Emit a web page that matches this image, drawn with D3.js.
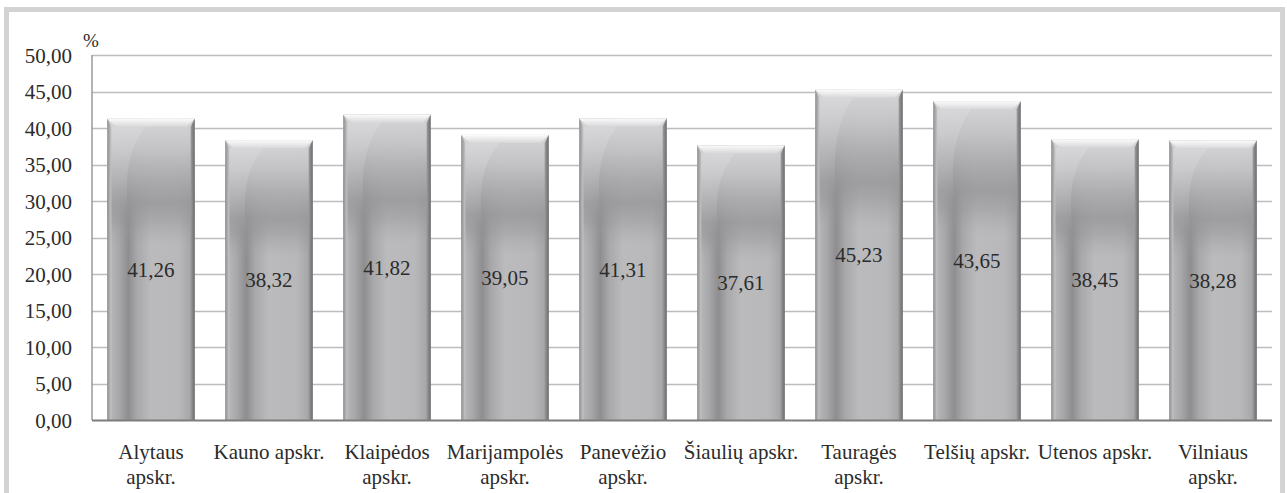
<!DOCTYPE html>
<html>
<head>
<meta charset="utf-8">
<script src="https://cdn.jsdelivr.net/npm/d3@7"></script>
</head>
<body style="margin:0">
<script>
const categories = ['Alytaus apskr.', 'Kauno apskr.', 'Klaipėdos apskr.', 'Marijampolės apskr.', 'Panevėžio apskr.',
  'Šiaulių apskr.', 'Tauragės apskr.', 'Telšių apskr.', 'Utenos apskr.', 'Vilniaus apskr.'];
const values = [41.26, 38.32, 41.82, 39.05, 41.31, 37.61, 45.23, 43.65, 38.45, 38.28];
const yTicks = [0, 5, 10, 15, 20, 25, 30, 35, 40, 45, 50];
const unitLabel = '%';

const outerWidth = 1287;
const outerHeight = 493;
const plot = { left: 92, right: 1272, top: 55, bottom: 420 };
const serif = 'Liberation Serif';
const ink = '#2b2b2b';

const fmt = v => d3.format('.2f')(v).replace('.', ',');

const svg = d3.select('body')
  .append('svg')
  .attr('width', outerWidth)
  .attr('height', outerHeight)
  .attr('font-family', serif)
  .style('display', 'block');

// outer frame (open at the bottom, cut by the picture)
svg.append('rect')
  .attr('x', 6.5).attr('y', 9.5)
  .attr('width', 1276).attr('height', 520)
  .attr('fill', '#fff')
  .attr('stroke', '#d3d3d3')
  .attr('stroke-width', 5);

// Scales
const x = d3.scaleBand()
  .domain(categories)
  .range([plot.left, plot.right])
  .paddingInner(0.26)
  .paddingOuter(0.13);

const y = d3.scaleLinear()
  .domain([0, 50])
  .range([plot.bottom, plot.top]);

// gradients
const defs = svg.append('defs');
const gradient = (id, horizontal, stops) => {
  const g = defs.append('linearGradient').attr('id', id)
    .attr('x1', 0).attr('y1', 0)
    .attr('x2', horizontal ? 1 : 0).attr('y2', horizontal ? 0 : 1);
  stops.forEach(([o, c, a]) => g.append('stop')
    .attr('offset', o).attr('stop-color', c).attr('stop-opacity', a === undefined ? 1 : a));
};

gradient('barH', true, [[0, '#a2a2a4'], [0.04, '#b6b6b8'], [0.13, '#a8a8aa'], [0.24, '#8e8e90'],
  [0.34, '#a8a8aa'], [0.5, '#bbbbbd'], [0.82, '#b8b8ba'], [0.94, '#a8a8aa'], [1, '#8a8a8c']]);
gradient('barV', false, [[0, '#d6d6d8', 1], [0.1, '#c4c4c6', 0.97], [0.2, '#aaaaac', 0.92],
  [0.28, '#979799', 0.8], [0.34, '#949496', 0.45], [0.42, '#a0a0a2', 0]]);
gradient('bevelTop', false, [[0, '#fbfbfb'], [1, '#d8d8da']]);
gradient('bevelLeft', true, [[0, '#8e8e90'], [1, '#c6c6c8']]);
gradient('bevelRight', true, [[0, '#9c9c9e'], [1, '#6c6c6e']]);
gradient('shine', false, [[0, '#e2e2e4', 0.35], [0.6, '#d8d8da', 0.18], [1, '#d8d8da', 0]]);

// gridlines
svg.append('g')
  .selectAll('line')
  .data(yTicks.filter(d => d > 0))
  .join('line')
  .attr('x1', plot.left).attr('x2', plot.right)
  .attr('y1', d => Math.round(y(d)) + 0.5).attr('y2', d => Math.round(y(d)) + 0.5)
  .attr('stroke', '#bdbdbd')
  .attr('stroke-width', 1.4);

// y axis
const yAxis = d3.axisLeft(y).tickValues(yTicks).tickFormat(fmt).tickSize(0).tickPadding(20);
const gy = svg.append('g')
  .attr('transform', `translate(${plot.left},0)`)
  .call(yAxis)
  .attr('font-family', serif)
  .attr('font-size', 21);
gy.select('.domain').remove();
gy.selectAll('text')
  .attr('font-family', serif)
  .attr('fill', ink)
  .attr('dy', '0.34em');

svg.append('text')
  .attr('x', 83).attr('y', 47)
  .attr('font-size', 19)
  .attr('font-family', serif)
  .attr('fill', ink)
  .text(unitLabel);

// bars
const bw = x.bandwidth();
const bev = 8;
const side = 4;
const barH = d => y(0) - y(d.v);
const bars = svg.append('g')
  .selectAll('g')
  .data(categories.map((c, i) => ({ c, v: values[i] })))
  .join('g')
  .attr('transform', d => `translate(${x(d.c)},${y(d.v)})`);

bars.append('rect')
  .attr('width', bw)
  .attr('height', barH)
  .attr('fill', 'url(#barH)');

bars.append('rect')
  .attr('width', bw)
  .attr('height', barH)
  .attr('fill', 'url(#barV)');

// light curve from the top-left corner
bars.append('path')
  .attr('d', d => {
    const h = barH(d);
    return `M${side},${bev} L${side + 34},${bev} Q${side + 10},${h * 0.12} ${side + 17},${h * 0.32} L${side},${h * 0.32} Z`;
  })
  .attr('fill', 'url(#shine)');

bars.append('path')
  .attr('d', `M0,0 L${bw},0 L${bw - bev},${bev} L${bev},${bev} Z`)
  .attr('fill', 'url(#bevelTop)');

bars.append('path')
  .attr('d', d => `M0,0 L${side},${bev} L${side},${barH(d)} L0,${barH(d)} Z`)
  .attr('fill', 'url(#bevelLeft)');

bars.append('path')
  .attr('d', d => `M${bw},0 L${bw - side},${bev} L${bw - side},${barH(d)} L${bw},${barH(d)} Z`)
  .attr('fill', 'url(#bevelRight)');

// value labels
bars.append('text')
  .attr('x', bw / 2)
  .attr('y', d => barH(d) / 2)
  .attr('dy', '0.35em')
  .attr('text-anchor', 'middle')
  .attr('font-size', 21)
  .attr('font-family', serif)
  .attr('fill', ink)
  .text(d => fmt(d.v));

// axis lines
svg.append('line')
  .attr('x1', plot.left).attr('x2', plot.left)
  .attr('y1', plot.top).attr('y2', plot.bottom)
  .attr('stroke', '#9a9a9a').attr('stroke-width', 1.5);
svg.append('line')
  .attr('x1', plot.left).attr('x2', plot.right)
  .attr('y1', plot.bottom + 0.5).attr('y2', plot.bottom + 0.5)
  .attr('stroke', '#7d7d7d').attr('stroke-width', 2);

// category labels, wrapped to the band step
const xLabels = svg.append('g')
  .selectAll('text')
  .data(categories)
  .join('text')
  .attr('x', d => x(d) + bw / 2)
  .attr('y', 459)
  .attr('text-anchor', 'middle')
  .attr('font-size', 21)
  .attr('font-family', serif)
  .attr('fill', ink);

xLabels.each(function (d) {
  const el = d3.select(this);
  el.text(d);
  if (this.getComputedTextLength() <= x.step()) return;
  el.text(null);
  d.split(' ').forEach((w, i) => {
    el.append('tspan')
      .attr('x', x(d) + bw / 2)
      .attr('dy', i === 0 ? 0 : 25)
      .text(w);
  });
});
</script>
</body>
</html>
